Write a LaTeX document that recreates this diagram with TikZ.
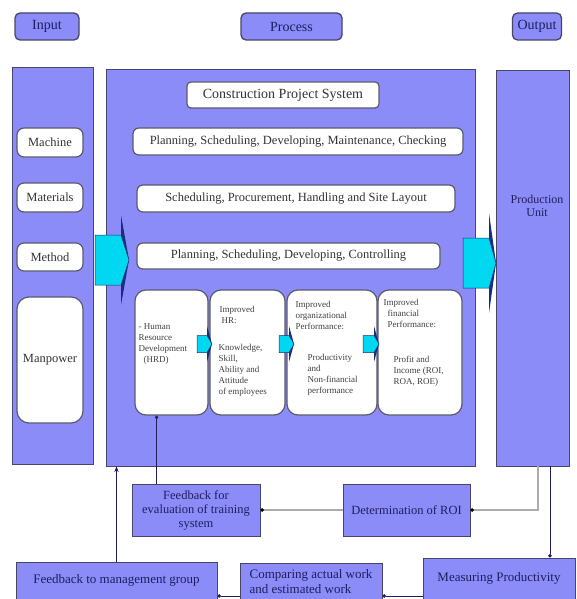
\documentclass[tikz,border=0pt]{standalone}
\usepackage{fontspec}
\setmainfont{Liberation Serif}
\usetikzlibrary{arrows.meta,positioning,calc}
\definecolor{lav}{RGB}{140,140,248}
\definecolor{edge}{RGB}{70,70,105}
\definecolor{ink}{RGB}{30,30,95}
\definecolor{aqua}{RGB}{0,215,240}
\definecolor{deep}{RGB}{25,45,125}
\definecolor{rim}{RGB}{90,90,110}
\tikzset{>=Stealth}
\tikzset{
  column/.style={draw=edge, line width=0.8pt, fill=lav, inner sep=0pt},
  headbox/.style={draw=edge, line width=1.3pt, fill=lav, rounded corners=5pt,
    inner sep=0pt, text=ink, font=\fontsize{14}{16}\selectfont},
  whitebox/.style={draw=rim, line width=1.2pt, fill=white, rounded corners=6pt,
    inner sep=0pt, text=black!80, font=\fontsize{12.5}{14}\selectfont},
  stagebox/.style={whitebox, rounded corners=11pt},
  stagetxt/.style={inner sep=0pt, align=left, text=black!75,
    font=\fontsize{9}{11}\selectfont},
  feedbox/.style={draw=edge, line width=0.8pt, fill=lav, inner sep=0pt,
    text=ink, align=center, font=\fontsize{12.5}{14}\selectfont},
  dotto/.style={-{Circle[length=3.5pt]}, draw=ink, line width=0.6pt},
  greyline/.style={-{Circle[length=3.5pt,black]}, draw=gray!65, line width=1.3pt},
}
% block arrow: x0, x base, x tip, y centre, half shaft, half head
\newcommand{\blockarrow}[6]{%
  \fill[deep] (#2,#4-#6) -- (#3,#4) -- (#2,#4+#6) -- cycle;
  \filldraw[fill=aqua, draw=deep, line width=0.5pt]
    (#1,#4-#5) -- (#2,#4-#5) -- (#3,#4) -- (#2,#4+#5) -- (#1,#4+#5) -- cycle;
}

\begin{document}
\begin{tikzpicture}[x=1pt,y=-1pt]
\useasboundingbox (0,0) rectangle (576,599);
% headers
\node[headbox, minimum width=64pt, minimum height=27pt] (hin) at (47,26.5) {Input};
\node[headbox, minimum width=101pt, minimum height=27pt] (hpro) at (291.5,26.5) {Process};
\node[headbox, minimum width=49pt, minimum height=27pt] (hout) at (537,26.5) {Output};
% columns
\node[column, minimum width=81pt, minimum height=397pt] (cin) at (52.5,265.5) {};
\node[column, minimum width=369pt, minimum height=397pt] (cpro) at (290.5,267.5) {};
\node[column, minimum width=73pt, minimum height=396pt] (cout) at (532.5,268) {};
\node[inner sep=0pt, align=center, text=ink, font=\fontsize{12}{13}\selectfont] (prod) at (537,206) {Production\\Unit};
% input items
\node[whitebox, rounded corners=7pt, minimum width=66pt, minimum height=29pt] (mach) at (50,142.5) {Machine};
\node[whitebox, rounded corners=7pt, minimum width=66pt, minimum height=29pt] (mat) at (50,197.5) {Materials};
\node[whitebox, rounded corners=7pt, minimum width=66pt, minimum height=28pt] (meth) at (50,257) {Method};
\node[whitebox, rounded corners=12pt, minimum width=66pt, minimum height=126pt] (man) at (50,360) {Manpower};
% process rows
\node[whitebox, rounded corners=4pt, minimum width=192pt, minimum height=26pt,
  font=\fontsize{14}{16}\selectfont] (cps) at (283,95) {Construction Project System};
\node[whitebox, minimum width=330pt, minimum height=27pt] (rowa) at (298,141.5) {Planning, Scheduling, Developing, Maintenance, Checking};
\node[whitebox, minimum width=318pt, minimum height=27pt] (rowb) at (296,198.5) {Scheduling, Procurement, Handling and Site Layout};
\node[whitebox, minimum width=303pt, minimum height=26pt] (rowc) at (288.5,256) {Planning, Scheduling, Developing, Controlling};
% stages
\node[stagebox, minimum width=73pt, minimum height=125pt] (hrd) at (171.5,352.5) {};
\node[stagebox, minimum width=75pt, minimum height=125pt] (hr) at (247.5,352.5) {};
\node[stagebox, minimum width=90pt, minimum height=125pt] (org) at (332,352.5) {};
\node[stagebox, minimum width=84pt, minimum height=125pt] (fin) at (420,352.5) {};
\node[stagetxt, below right=34pt and 4pt of hrd.north west] (hrdtxt) {- Human\\Resource\\Development\\\hspace*{5pt}(HRD)};
\node[stagetxt, below right=17pt and 10pt of hr.north west] (hrhead) {Improved\\\hspace*{2pt}HR:};
\node[stagetxt, below right=55pt and 9pt of hr.north west] (hrtxt) {Knowledge,\\Skill,\\Ability and\\Attitude\\of employees};
\node[stagetxt, below right=12pt and 9pt of org.north west] (orghead) {Improved\\organizational\\Performance:};
\node[stagetxt, below right=65pt and 21pt of org.north west] (orgtxt) {Productivity\\and\\Non-financial\\performance};
\node[stagetxt, below right=10pt and 6pt of fin.north west] (finhead) {Improved\\\hspace*{4pt}financial\\\hspace*{4pt}Performance:};
\node[stagetxt, below right=67pt and 16pt of fin.north west] (fintxt) {Profit and\\Income (ROI,\\ROA, ROE)};
% arrows
\blockarrow{197}{207}{212}{344}{8.5}{18}
\blockarrow{279}{289}{294}{344}{8.5}{18}
\blockarrow{363}{374}{379}{344}{8.5}{18}
\blockarrow{95}{121}{129}{260}{25}{45}
\blockarrow{463}{489}{496}{263}{25}{50}
% feedback
\node[feedbox, minimum width=128pt, minimum height=52pt] (fbe) at (196,510) {Feedback for\\evaluation of training\\system};
\node[feedbox, minimum width=127pt, minimum height=52pt] (roi) at (406.5,510) {Determination of ROI};
\node[feedbox, minimum width=201pt, minimum height=37pt, font=\fontsize{13}{15}\selectfont] (fbm) at (116.5,580.5) {Feedback to management group};
\node[feedbox, minimum width=142pt, minimum height=37pt, align=left, font=\fontsize{13}{15}\selectfont] (cmp) at (311,582) {Comparing actual work\\and estimated work};
\node[feedbox, minimum width=152pt, minimum height=41pt, font=\fontsize{13}{15}\selectfont] (meas) at (499,578.5) {Measuring Productivity};
\coordinate (base) at (0,596);
\draw[->, draw=ink, line width=0.6pt] (fbm.north) -- (fbm.north |- cpro.south);
\draw[dotto] ([xshift=25pt]fbe.north west) -- ([xshift=25pt]fbe.north west |- hrd.south);
\draw[greyline] (roi.west) -- (fbe.east);
\draw[greyline] ([xshift=5.5pt]cout.south) |- (roi.east);
\draw[dotto] ([xshift=17.5pt]cout.south) -- ([xshift=17.5pt]cout.south |- meas.north);
\draw[dotto] (meas.west |- base) -- (cmp.east |- base);
\draw[dotto] (cmp.west |- base) -- (fbm.east |- base);
\end{tikzpicture}
\end{document}
